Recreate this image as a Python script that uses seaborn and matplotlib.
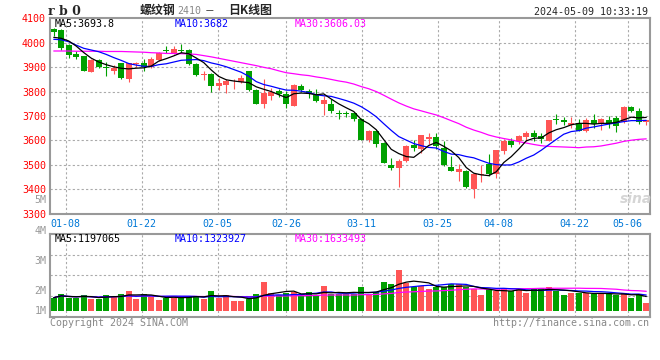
import numpy as np
import pandas as pd
import matplotlib
matplotlib.use("Agg")
import matplotlib.pyplot as plt
import seaborn as sns

sns.set_style("white")
plt.rcParams['font.family'] = ['DejaVu Sans Mono', 'Noto Sans CJK SC']

# daily bars 2024-01-04 .. 2024-05-09 (rb0)
opens = [4056, 4050, 3990, 3954, 3946, 3880, 3928, 3901, 3886, 3916,
         3852, 3913, 3916, 3899, 3928, 3971, 3958, 3970, 3969, 3912,
         3868, 3872, 3823, 3827, 3841, 3838, 3882, 3807, 3750, 3782,
         3800, 3789, 3740, 3822, 3801, 3786, 3748, 3748, 3713, 3712,
         3712, 3688, 3601, 3637, 3589, 3499, 3487, 3517, 3581, 3566,
         3607, 3615, 3569, 3491, 3469, 3476, 3400, 3457, 3501, 3463,
         3558, 3599, 3599, 3614, 3630, 3618, 3599, 3688, 3683, 3664,
         3671, 3637, 3684, 3667, 3684, 3691, 3673, 3736, 3722, 3675]
closes = [4044, 3980, 3950, 3940, 3884, 3929, 3901, 3895, 3897, 3854,
          3916, 3916, 3902, 3933, 3956, 3966, 3973, 3966, 3913, 3868,
          3872, 3822, 3834, 3844, 3843, 3854, 3807, 3748, 3793, 3797,
          3789, 3748, 3827, 3807, 3789, 3762, 3766, 3721, 3709, 3708,
          3686, 3601, 3637, 3585, 3505, 3487, 3514, 3576, 3569, 3620,
          3615, 3576, 3497, 3476, 3483, 3410, 3460, 3463, 3460, 3562,
          3599, 3582, 3616, 3630, 3614, 3607, 3684, 3682, 3673, 3671,
          3637, 3684, 3667, 3688, 3672, 3657, 3736, 3721, 3673, 3682]
highs = [4061, 4056, 3995, 3966, 3947, 3933, 3932, 3920, 3907, 3918,
         3917, 3922, 3932, 3940, 3962, 3986, 3988, 3993, 3973, 3918,
         3884, 3875, 3854, 3850, 3850, 3868, 3886, 3810, 3850, 3814,
         3811, 3803, 3831, 3831, 3810, 3810, 3780, 3769, 3724, 3721,
         3712, 3691, 3641, 3641, 3592, 3528, 3524, 3582, 3603, 3623,
         3630, 3630, 3599, 3537, 3503, 3480, 3460, 3497, 3542, 3562,
         3607, 3610, 3623, 3640, 3642, 3630, 3684, 3707, 3697, 3697,
         3688, 3693, 3707, 3691, 3698, 3701, 3742, 3742, 3731, 3684]
lows = [4028, 3970, 3936, 3933, 3884, 3880, 3898, 3864, 3871, 3853,
        3840, 3899, 3882, 3895, 3925, 3956, 3955, 3956, 3909, 3864,
        3846, 3798, 3807, 3793, 3810, 3835, 3803, 3748, 3732, 3766,
        3777, 3732, 3739, 3797, 3773, 3759, 3704, 3712, 3688, 3694,
        3680, 3601, 3593, 3574, 3505, 3480, 3410, 3511, 3558, 3548,
        3585, 3566, 3494, 3473, 3433, 3403, 3365, 3429, 3453, 3444,
        3542, 3571, 3585, 3599, 3599, 3589, 3599, 3667, 3661, 3650,
        3637, 3634, 3650, 3643, 3650, 3633, 3671, 3716, 3668, 3664]
volumes = [1103, 1407, 1103, 1103, 1324, 1021, 993, 1324, 1269, 1407,
           1655, 993, 1407, 1159, 910, 1103, 1103, 1241, 1241, 1241,
           1021, 1655, 1103, 1324, 828, 828, 1021, 1407, 2400, 1490,
           1297, 1490, 1545, 1241, 1572, 1241, 2069, 1407, 1407, 1407,
           1434, 1986, 1434, 1572, 2400, 2234, 3421, 2317, 1986, 2069,
           1848, 1986, 1986, 2207, 2207, 1986, 1793, 1297, 1793, 1628,
           1903, 1628, 1793, 1490, 1793, 1903, 1986, 1628, 1352, 1490,
           1520, 1520, 1380, 1380, 1420, 1352, 1500, 1050, 1420, 665]
volumes = [v * 1000 for v in volumes]

# moving-average values at the left edge (history before the window)
ma5_head = [4022, 4018, 4007, 3986]
ma10_head = [4014, 4012, 4004, 3990, 3977, 3970, 3963, 3952, 3939]
ma30_head = [3966, 3966, 3966, 3965, 3965, 3965, 3965, 3964, 3964, 3964,
             3963, 3962, 3961, 3959, 3958, 3956, 3956, 3955, 3954, 3952,
             3947, 3942, 3936, 3930, 3924, 3918, 3912, 3906, 3899]

tick_days = ['01-08', '01-22', '02-05', '02-26', '03-11', '03-25', '04-08', '04-22', '05-06']
tick_idx = [2, 12, 22, 31, 41, 51, 59, 69, 76]

df = pd.DataFrame({'o': opens, 'h': highs, 'l': lows, 'c': closes, 'v': volumes})
df['i'] = np.arange(len(df))
df['dir'] = np.where(df['c'] >= df['o'], 'up', 'down')

def with_head(s, n, head):
    m = s.rolling(n).mean()
    m.iloc[:len(head)] = head
    return m

df['ma5'] = with_head(df['c'], 5, ma5_head)
df['ma10'] = with_head(df['c'], 10, ma10_head)
df['ma30'] = with_head(df['c'], 30, ma30_head)
df['vma5'] = df['v'].rolling(5, min_periods=1).mean()
df['vma10'] = df['v'].rolling(10, min_periods=1).mean()
df['vma30'] = df['v'].rolling(30, min_periods=1).mean()

RED = '#ff5555'
GREEN = '#00a000'
GRID = '#aaaaaa'
BORDER = '#999999'
pal = {'up': RED, 'down': GREEN}
cols = df['dir'].map(pal)

W, H = 660, 360
def fx(px): return px / W
def fy(py): return 1 - py / H

fig = plt.figure(figsize=(6.6, 3.6), dpi=100)
ax = fig.add_axes([fx(50), fy(213.5), 600 / W, 195.2 / H])
axv = fig.add_axes([fx(50), fy(317), 600 / W, 83 / H])

n = len(df)
xlim = (-0.5, n - 0.5)
gx = [xlim[0] + 0.06 + k * n / (n - 1) for k in tick_idx]

for a in (ax, axv):
    a.set_xlim(*xlim)
    for s in a.spines.values():
        s.set_color(BORDER)
        s.set_linewidth(1.5)
    for g in gx:
        a.axvline(g, color=GRID, lw=0.8, ls=(0, (2, 2)), zorder=0)

# price panel
ax.set_ylim(3300, 4100)
for y in range(3400, 4100, 100):
    ax.axhline(y, color=GRID, lw=0.8, ls=(0, (2, 2)), zorder=0)
ax.vlines(df['i'], df['l'], df['h'], colors=cols, lw=0.8, zorder=2)
body_lo = df[['o', 'c']].min(axis=1)
body_h = (df['c'] - df['o']).abs().clip(lower=3)
ax.bar(df['i'], body_h, bottom=body_lo, width=0.8, color=cols, lw=0, zorder=3)
sns.lineplot(x=df['i'], y=df['ma30'], color='#ff00ff', lw=0.9, ax=ax, zorder=4)
sns.lineplot(x=df['i'], y=df['ma10'], color='#0000ff', lw=0.9, ax=ax, zorder=4)
sns.lineplot(x=df['i'], y=df['ma5'], color='black', lw=0.9, ax=ax, zorder=5)
ax.set_yticks(range(3300, 4101, 100))
ax.tick_params(axis='y', length=0, pad=3, labelcolor='red', labelsize=7.2)
ax.set_xticks(gx)
ax.set_xticklabels(tick_days)
ax.tick_params(axis='x', length=0, pad=4, labelcolor='#0078d7', labelsize=7.2)
ax.set_xlabel('')
ax.set_ylabel('')

# volume panel
axv.set_ylim(-0.497e6, 6.374e6)
lo, hi = axv.get_ylim()
for f in (0.25, 0.5, 0.75):
    axv.axhline(lo + f * (hi - lo), color=GRID, lw=0.8, ls=(0, (2, 2)), zorder=0)
sns.barplot(data=df, x='i', y='v', hue='dir', palette=pal, native_scale=True,
            dodge=False, width=0.8, saturation=1, errorbar=None, legend=False,
            linewidth=0, ax=axv, zorder=2)
sns.lineplot(x=df['i'], y=df['vma30'], color='#ff00ff', lw=0.9, ax=axv, zorder=4)
sns.lineplot(x=df['i'], y=df['vma10'], color='#0000ff', lw=0.9, ax=axv, zorder=4)
sns.lineplot(x=df['i'], y=df['vma5'], color='black', lw=0.9, ax=axv, zorder=5)
axv.set_xlim(*xlim)
axv.set_ylim(lo, hi)
axv.set_xticks([])
axv.set_yticks([])
axv.set_xlabel('')
axv.set_ylabel('')

fs = 7.2
# header
fig.text(fx(48), fy(11.5), 'r b 0', family='DejaVu Serif', weight='bold', size=9, va='center')
fig.text(fx(140), fy(10.5), '螺纹钢', family='Noto Sans CJK SC', weight='bold', size=8.6, va='center')
fig.text(fx(177), fy(11), '2410', color='#888888', size=fs, va='center')
fig.text(fx(210), fy(10.5), '－', family='Noto Sans CJK SC', size=7, va='center', ha='center')
fig.text(fx(228), fy(10.5), '日K线图', family='Noto Sans CJK SC', weight='bold', size=8.6, va='center')
fig.text(fx(648), fy(12), '2024-05-09 10:33:19', size=fs, va='center', ha='right')

# moving-average legends
fig.text(fx(55), fy(24), 'MA5:3693.8', size=fs, va='center', color='black')
fig.text(fx(175), fy(24), 'MA10:3682', size=fs, va='center', color='#0000ff')
fig.text(fx(295), fy(24), 'MA30:3606.03', size=fs, va='center', color='#ff00ff')
fig.text(fx(55), fy(239.5), 'MA5:1197065', size=fs, va='center', color='black')
fig.text(fx(175), fy(239.5), 'MA10:1323927', size=fs, va='center', color='#0000ff')
fig.text(fx(295), fy(239.5), 'MA30:1633493', size=fs, va='center', color='#ff00ff')

# volume scale labels
for lab, py in zip(['5M', '4M', '3M', '2M', '1M'], [200, 230.7, 260.7, 291, 310.7]):
    fig.text(fx(46.5), fy(py), lab, size=fs, va='center', ha='right', color='#999999')

# footer and watermark
fig.text(fx(50), fy(323.5), 'Copyright 2024 SINA.COM', size=fs, va='center', color='#888888')
fig.text(fx(649), fy(323.5), 'http://finance.sina.com.cn', size=fs, va='center', ha='right', color='#888888')
fig.text(fx(636), fy(199), 'sina', family='DejaVu Sans', style='italic', weight='bold',
         size=10, va='center', ha='center', color='#d5d5d5', zorder=0)

fig.savefig('out.png', dpi=100)
